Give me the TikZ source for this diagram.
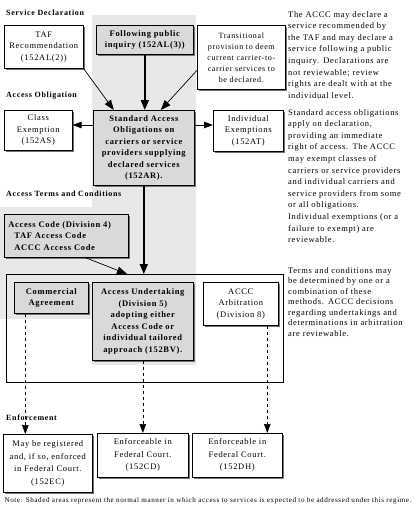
\documentclass[tikz,border=0pt]{standalone}
\usepackage{fontspec}
\setmainfont[LetterSpace=8]{Liberation Serif}
\usepackage{tikz}
\usetikzlibrary{arrows.meta,shadows}

\definecolor{shadegray}{gray}{0.91}
\definecolor{boxgray}{gray}{0.85}

\begin{document}
\begin{tikzpicture}[x=1pt,y=-1pt,
  box/.style={draw,fill=white,line width=0.6pt,inner sep=0pt,anchor=north west,align=center,
    font=\fontsize{8.5}{11.5}\selectfont,
    drop shadow={shadow xshift=1.6pt,shadow yshift=-1.6pt,fill=black!55,opacity=1}},
  shadedbox/.style={box,fill=boxgray,font=\fontsize{8.5}{11.5}\selectfont\bfseries},
  heading/.style={anchor=west,inner sep=0pt,font=\fontsize{8}{10}\selectfont\bfseries},
  remark/.style={anchor=north west,inner sep=0pt,align=left,text width=128pt},
  thickarrow/.style={line width=1.7pt,-{Triangle[length=10pt,width=8pt]}},
  thinarrow/.style={line width=0.7pt,-{Triangle[length=10pt,width=7.5pt]}},
  sidearrow/.style={line width=1pt,-{Triangle[length=9pt,width=6.5pt]}},
  dasharrow/.style={line width=0.6pt,dashed,-{Triangle[length=9pt,width=6.5pt]}}]
  \useasboundingbox (0,0) rectangle (416,506);

  % Shaded areas: the normal path
  \fill[shadegray] (92,15) -- (196,15) -- (196,365) -- (92,365) -- (92,319)
    -- (0,319) -- (0,207) -- (92,207) -- cycle;

  % Section headings
  \node[heading] (hdecl) at (6,13) {Service Declaration};
  \node[heading] (hoblig) at (6,96) {Access Obligation};
  \node[heading] (hterms) at (6,194) {Access Terms and Conditions};
  \node[heading] (henf) at (6,418) {Enforcement};

  % Service declaration
  \node[box,minimum width=79pt,minimum height=43pt] (taf) at (4,25)
    {TAF\\Recommendation\\(152AL(2))};
  \node[shadedbox,minimum width=97pt,minimum height=29pt] (inquiry) at (96,25)
    {Following public\\inquiry (152AL(3))};
  \node[box,minimum width=88pt,minimum height=64pt,font=\fontsize{8}{11}\selectfont] (trans) at (197,25)
    {Transitional\\provision to deem\\current carrier-to-\\carrier services to\\be declared.};

  % Access obligation
  \node[box,minimum width=68pt,minimum height=40pt] (classex) at (4,110)
    {Class\\Exemption\\(152AS)};
  \node[shadedbox,minimum width=101pt,minimum height=75pt] (sao) at (93,110)
    {Standard Access\\Obligations on\\carriers or service\\providers supplying\\declared services\\(152AR).};
  \node[box,minimum width=70pt,minimum height=41pt] (indiv) at (213,110)
    {Individual\\Exemptions\\(152AT)};

  % Access terms and conditions
  \node[shadedbox,minimum width=124pt,minimum height=43pt,text width=116pt,
    inner xsep=4pt,align=left] (code) at (4,214)
    {Access Code (Division 4)\\\hspace*{6pt}TAF Access Code\\\hspace*{6pt}ACCC Access Code};
  \node[draw,line width=0.6pt,inner sep=0pt,anchor=north west,minimum width=277pt,
    minimum height=108pt] (methods) at (6,274) {};
  \coordinate (codein) at (127,274);
  \node[shadedbox,minimum width=74pt,minimum height=31pt] (commercial) at (14,282)
    {Commercial\\Agreement};
  \node[shadedbox,minimum width=101pt,minimum height=78pt] (undertaking) at (92,282)
    {Access Undertaking\\(Division 5)\\adopting either\\Access Code or\\individual tailored\\approach (152BV).};
  \node[box,minimum width=75pt,minimum height=43pt] (arbitration) at (203,282)
    {ACCC\\Arbitration\\(Division 8)};

  % Enforcement
  \node[box,minimum width=89pt,minimum height=58pt,font=\fontsize{8.5}{12.5}\selectfont] (enfec) at (3,434)
    {May be registered\\and, if so, enforced\\in Federal Court.\\(152EC)};
  \node[box,minimum width=91pt,minimum height=44pt,font=\fontsize{8.5}{12.5}\selectfont] (enfcd) at (97,433)
    {Enforceable in\\Federal Court.\\(152CD)};
  \node[box,minimum width=90pt,minimum height=44pt,font=\fontsize{8.5}{12.5}\selectfont] (enfdh) at (192,433)
    {Enforceable in\\Federal Court.\\(152DH)};

  % Connectors
  \draw[thinarrow] (taf.south east) -- ([xshift=-30pt]sao.north);
  \draw[thickarrow] (inquiry.south) -- (inquiry.south |- sao.north);
  \draw[thinarrow] ([yshift=-13pt]trans.west) -- ([xshift=17pt]sao.north);
  \draw[sidearrow] ([yshift=-15pt]sao.north west) -- ([yshift=-15pt]sao.north west -| classex.east);
  \draw[sidearrow] ([yshift=-15pt]sao.north east) -- ([yshift=-15pt]sao.north east -| indiv.west);
  \draw[thickarrow] (sao.south) -- (sao.south |- methods.north);
  \draw[thinarrow] ([xshift=19pt]code.south) -- (codein);
  \draw[dasharrow] ([xshift=-26pt]commercial.south) -- ([xshift=-26pt]commercial.south |- enfec.north);
  \draw[dasharrow] (undertaking.south) -- (enfcd.north);
  \draw[dasharrow] ([xshift=26.5pt]arbitration.south) -- ([xshift=26.5pt]arbitration.south |- enfdh.north);

  % Explanatory text
  \node[remark,font=\fontsize{8.5}{11.6}\selectfont] (textdecl) at (288,11)
    {The ACCC may declare a\\service recommended by\\the TAF and may declare a\\service following a public\\inquiry. Declarations are\\not reviewable; review\\rights are dealt with at the\\individual level.};
  \node[remark,font=\fontsize{8.5}{11.6}\selectfont] (textoblig) at (288,109)
    {Standard access obligations\\apply on declaration,\\providing an immediate\\right of access. The ACCC\\may exempt classes of\\carriers or service providers\\and individual carriers and\\service providers from some\\or all obligations.\\Individual exemptions (or a\\failure to exempt) are\\reviewable.};
  \node[remark,font=\fontsize{8.5}{10.5}\selectfont] (textterms) at (288,267)
    {Terms and conditions may\\be determined by one or a\\combination of these\\methods. ACCC decisions\\regarding undertakings and\\determinations in arbitration\\are reviewable.};
  \node[inner sep=0pt,font=\fontsize{7.1}{8}\selectfont] (note) at (208,501)
    {Note: Shaded areas represent the normal manner in which access to services is expected to be addressed under this regime.};
\end{tikzpicture}
\end{document}
